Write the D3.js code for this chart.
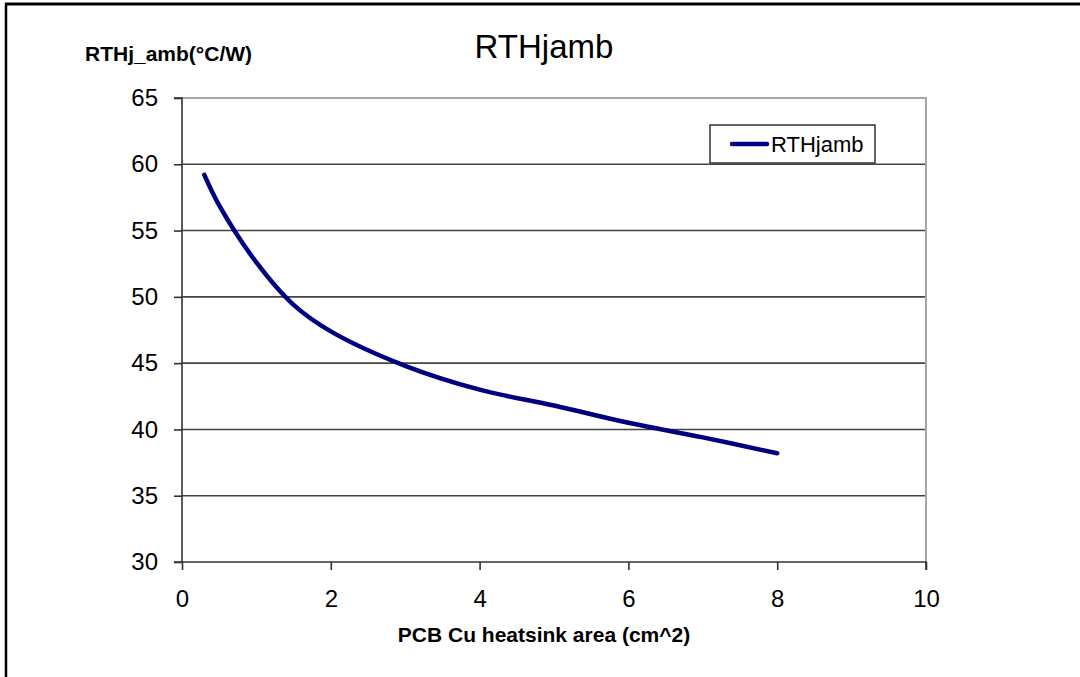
<!DOCTYPE html>
<html>
<head>
<meta charset="utf-8">
<script src="https://cdn.jsdelivr.net/npm/d3@7"></script>
<style>
  body { margin: 0; background: #fff; }
  text { font-family: "Liberation Sans", Arial, sans-serif; fill: #000; }
</style>
</head>
<body>
<div id="chart-area"></div>
<script>
const areas = [0.3, 0.5, 1, 1.5, 2, 3, 4, 5, 6, 7, 8];
const rthValues = [59.2, 56.9, 52.6, 49.4, 47.4, 44.8, 43.0, 41.8, 40.5, 39.4, 38.2];
const xTicks = [0, 2, 4, 6, 8, 10];
const yTicks = [30, 35, 40, 45, 50, 55, 60, 65];
const seriesName = "RTHjamb";

const data = areas.map((a, i) => ({ x: a, y: rthValues[i] }));

const svg = d3.select("#chart-area").append("svg")
	.attr("width", 1080)
	.attr("height", 677);

// outer frame (top + left visible)
svg.append("line").attr("x1", 5).attr("x2", 1080).attr("y1", 4).attr("y2", 4)
	.attr("stroke", "#000").attr("stroke-width", 3);
svg.append("line").attr("x1", 6).attr("x2", 6).attr("y1", 3).attr("y2", 677)
	.attr("stroke", "#000").attr("stroke-width", 2.5);

const plotLeft = 182, plotRight = 926, plotTop = 98, plotBottom = 562;

const x = d3.scaleLinear().domain([0, 10]).range([plotLeft, plotRight]);
const y = d3.scaleLinear().domain([30, 65]).range([plotBottom, plotTop]);

// gridlines
svg.selectAll(".grid")
	.data(yTicks.filter(t => t > 30 && t < 65))
	.enter()
	.append("line")
	.attr("class", "grid")
	.attr("x1", plotLeft).attr("x2", plotRight)
	.attr("y1", d => y(d)).attr("y2", d => y(d))
	.attr("stroke", "#444").attr("stroke-width", 1.6);

// plot border top/right
svg.append("path")
	.attr("d", `M${plotLeft},${plotTop}H${plotRight}V${plotBottom}`)
	.attr("fill", "none").attr("stroke", "#a6a6a6").attr("stroke-width", 2);

// axes
const xAxis = svg.append("g")
	.attr("transform", `translate(0,${plotBottom})`)
	.call(d3.axisBottom(x).tickValues(xTicks).tickSize(8).tickPadding(20));
const yAxis = svg.append("g")
	.attr("transform", `translate(${plotLeft},0)`)
	.call(d3.axisLeft(y).tickValues(yTicks).tickSize(8).tickPadding(16));

[xAxis, yAxis].forEach(g => {
	g.select(".domain").attr("stroke", "#333").attr("stroke-width", 1.6);
	g.selectAll(".tick line").attr("stroke", "#333").attr("stroke-width", 1.6);
	g.selectAll(".tick text")
		.attr("font-size", 24)
		.attr("font-family", "'Liberation Sans', Arial, sans-serif")
		.attr("fill", "#000");
});
yAxis.select(".domain").attr("d", `M-8,${plotTop}H0V${plotBottom}`);
xAxis.select(".domain").attr("d", `M${plotLeft - 8},0H${plotRight}V8`);

// the curve
const line = d3.line()
	.x(d => x(d.x))
	.y(d => y(d.y))
	.curve(d3.curveCatmullRom.alpha(0.5));

svg.append("path")
	.datum(data)
	.attr("d", line)
	.attr("fill", "none")
	.attr("stroke", "#000080")
	.attr("stroke-width", 4.5)
	.attr("stroke-linecap", "round");

// titles
svg.append("text")
	.attr("x", 544).attr("y", 58)
	.attr("text-anchor", "middle")
	.attr("font-size", 33)
	.text("RTHjamb");

svg.append("text")
	.attr("x", 85).attr("y", 61)
	.attr("font-size", 21)
	.attr("font-weight", "bold")
	.text("RTHj_amb(°C/W)");

svg.append("text")
	.attr("x", 544).attr("y", 642)
	.attr("text-anchor", "middle")
	.attr("font-size", 21)
	.attr("font-weight", "bold")
	.text("PCB Cu heatsink area (cm^2)");

// legend
const legend = svg.append("g");
legend.append("rect")
	.attr("x", 710).attr("y", 125)
	.attr("width", 165).attr("height", 38)
	.attr("fill", "#fff").attr("stroke", "#333").attr("stroke-width", 1.5);
legend.append("line")
	.attr("x1", 732).attr("x2", 767).attr("y1", 144).attr("y2", 144)
	.attr("stroke", "#000080").attr("stroke-width", 4.5).attr("stroke-linecap", "round");
legend.append("text")
	.attr("x", 771).attr("y", 152)
	.attr("font-size", 22)
	.text(seriesName);
</script>
</body>
</html>
